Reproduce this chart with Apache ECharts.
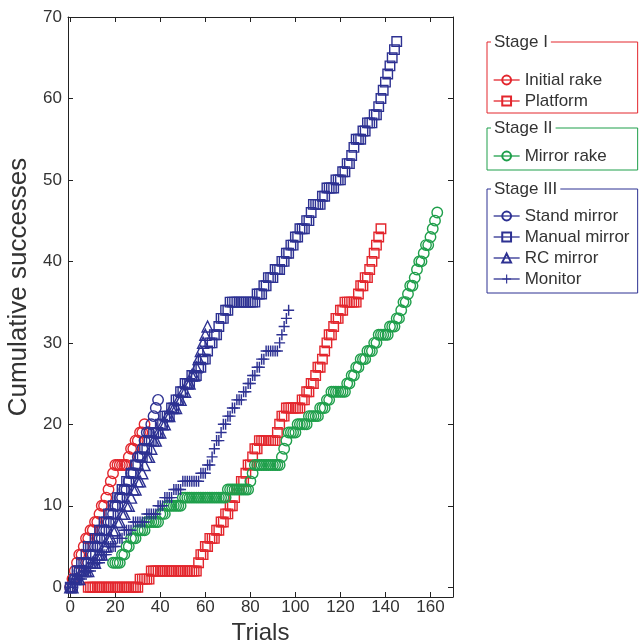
<!DOCTYPE html>
<html><head><meta charset="utf-8">
<script src="https://cdn.jsdelivr.net/npm/echarts@6/dist/echarts.min.js"></script>
<style>html,body{margin:0;padding:0;background:#fff}#c{width:639px;height:642px}</style>
</head><body><div id="c"></div>
<script>
// ---- data (trial index start + cumulative successes per trial) ----
const xTicks = [0, 20, 40, 60, 80, 100, 120, 140, 160];
const yTicks = [0, 10, 20, 30, 40, 50, 60, 70];

const initialRakeStart = 0;
const initialRake = [0,1,2,3,4,4,5,6,6,7,7,8,8,9,10,10,11,12,13,14,15,15,15,15,15,15,16,17,17,18,18,19,19,20];

const platformStart = 8;
const platform = [
 0,0,0,0,0,0,0,0,0,0,0,0,0,0,0,0,0,0,0,0,0,0,0,
 1,1,1,1,1,
 2,2,2,2,2,2,2,2,2,2,2,2,2,2,2,2,2,2,2,2,2,
 3,4,4,5,5,6,6,6,7,7,8,8,9,9,10,10,11,12,12,13,13,14,15,15,16,17,17,
 18,18,18,18,18,18,18,18,
 19,20,21,21,22,
 22,22,22,22,22,22,
 23,23,24,24,25,25,26,27,27,28,29,30,31,31,32,33,33,34,34,35,
 35,35,35,35,35,
 36,37,37,38,38,39,40,41,42,43,44];

const mirrorRakeStart = 19;
const mirrorRake = [
 3,3,3,3,
 4,4,5,5,6,6,6,
 7,7,7,7,
 8,8,8,8,8,8,
 9,9,9,
 10,10,10,10,10,10,10,
 11,11,11,11,11,11,11,11,11,11,11,11,11,11,11,11,11,11,11,11,
 12,12,12,12,12,12,12,12,12,12,
 13,14,
 15,15,15,15,15,15,15,15,15,15,15,15,
 16,17,18,19,
 19,19,19,
 20,20,20,20,20,
 21,21,21,21,21,
 22,22,22,
 23,23,
 24,24,24,24,24,24,24,
 25,25,26,26,27,27,28,28,28,
 29,29,29,
 30,30,
 31,31,31,31,31,
 32,32,32,
 33,33,
 34,35,35,36,37,37,38,39,40,40,41,42,42,43,44,45,46];

const standMirrorStart = 0;
const standMirror = [0,0,1,1,2,2,2,3,3,4,4,5,5,6,6,7,7,8,8,9,10,10,11,11,12,12,13,14,14,15,16,16,17,18,19,19,20,21,22,23];

const manualMirrorStart = 0;
const manualMirror = [
 0,0,1,2,2,3,3,4,5,5,
 5,6,6,7,7,8,8,9,9,10,
 10,11,11,12,12,13,13,14,14,15,
 15,16,16,17,17,18,18,19,19,19,
 20,20,21,21,21,22,22,23,23,24,
 24,25,25,25,26,26,26,27,27,28,
 28,29,30,30,31,31,32,33,33,34,
 34,35,35,35,35,35,35,35,35,35,
 35,35,35,36,36,36,37,37,38,38,
 38,39,39,39,40,40,41,41,42,42,
 43,43,44,44,44,45,45,46,47,47,
 47,47,48,48,49,49,49,49,50,50,
 50,51,51,52,52,53,54,55,55,55,
 56,56,57,57,57,58,58,59,60,61,
 62,63,64,65,66,67];

const rcMirrorStart = 0;
const rcMirror = [
 0,0,1,1,1,2,2,2,2,3,
 3,3,4,4,4,5,5,6,6,7,
 7,8,8,9,9,10,10,11,12,12,
 13,13,14,15,16,16,17,18,18,19,
 19,20,20,21,21,22,22,22,23,23,
 24,24,25,25,26,26,27,28,29,30,
 31,32];

const monitorStart = 0;
const monitor = [
 0,0,1,1,1,1,2,2,2,2,
 3,3,3,3,4,4,4,5,5,5,
 5,6,6,6,7,7,7,7,8,8,
 8,8,8,8,9,9,9,9,9,10,
 10,10,11,11,11,11,12,12,12,12,
 13,13,13,13,13,13,13,13,14,14,
 14,15,15,16,17,18,18,19,20,20,
 21,21,22,22,23,23,23,24,24,25,
 25,26,26,27,27,28,28,29,29,29,
 29,29,29,30,31,32,33,34];

// ---- styling ----
const RED = '#e3262d', GREEN = '#1f9f4b', BLUE = '#2d3192';
const FONT = 'Liberation Sans, Arial, sans-serif';
const PLUS = 'path://M4.35,0H5.65V4.35H10V5.65H5.65V10H4.35V5.65H0V4.35H4.35Z';

function mk(name, start, vals, symbol, size, color, filled) {
  return {
    type: 'line', name: name,
    data: vals.map((v, i) => [start + i, v]),
    symbol: symbol, symbolSize: size, showSymbol: true,
    lineStyle: { width: 1.3, opacity: 0, color: color },
    itemStyle: filled ? { color: color, borderWidth: 0 }
                      : { color: 'rgba(0,0,0,0)', borderColor: color, borderWidth: 1.4 },
    emphasis: { disabled: true }, silent: true, animation: false
  };
}

const axisLineStyle = { color: '#222', width: 1 };
const labelStyle = { fontFamily: FONT, fontSize: 17, color: '#333' };

function legendBox(items, top, color, padTop, padBottom) {
  return {
    data: items, orient: 'vertical', left: 487, top: top,
    borderColor: color, borderWidth: 1, padding: [padTop, 6, padBottom, 6],
    itemGap: 3, itemWidth: 26, itemHeight: 11, selectedMode: false,
    textStyle: { fontFamily: FONT, fontSize: 17, color: '#333', width: 107, lineHeight: 18 },
    lineStyle: { opacity: 1, width: 1.3 }
  };
}
function stageTitle(text, left, top) {
  return { text: text, left: left, top: top, padding: [0, 3], backgroundColor: '#fff',
    textStyle: { fontFamily: FONT, fontSize: 17, fontWeight: 'normal', color: '#333', lineHeight: 20 } };
}

const chart = echarts.init(document.getElementById('c'), null, { renderer: 'canvas' });
chart.setOption({
  backgroundColor: '#fff',
  animation: false,
  grid: { left: 68, right: 186, top: 17, bottom: 45, containLabel: false, outerBoundsMode: 'none' },
  title: [
    stageTitle('Stage I', 491, 32),
    stageTitle('Stage II', 491, 118),
    stageTitle('Stage III', 491, 179)
  ],
  legend: [
    legendBox(['Initial rake', 'Platform'], 42, RED, 29, 3),
    legendBox(['Mirror rake'], 128, GREEN, 19, 5),
    legendBox(['Stand mirror', 'Manual mirror', 'RC mirror', 'Monitor'], 189, BLUE, 18, 5)
  ],
  xAxis: [
    { type: 'value', min: -1, max: 170, position: 'bottom',
      axisLine: { onZero: false, lineStyle: axisLineStyle },
      axisTick: { inside: true, length: 5, customValues: xTicks, lineStyle: axisLineStyle },
      axisLabel: Object.assign({ customValues: xTicks, margin: 2 }, labelStyle),
      splitLine: { show: false },
      name: 'Trials', nameLocation: 'middle', nameGap: 21,
      nameTextStyle: { fontFamily: FONT, fontSize: 24, color: '#333' } },
    { type: 'value', min: -1, max: 170, position: 'top',
      axisLine: { onZero: false, lineStyle: axisLineStyle },
      axisTick: { inside: true, length: 5, customValues: xTicks, lineStyle: axisLineStyle },
      axisLabel: { show: false }, splitLine: { show: false } }
  ],
  yAxis: [
    { type: 'value', min: -1.2, max: 70, position: 'left',
      axisLine: { onZero: false, lineStyle: axisLineStyle },
      axisTick: { inside: true, length: 5, customValues: yTicks, lineStyle: axisLineStyle },
      axisLabel: Object.assign({ customValues: yTicks, margin: 6 }, labelStyle),
      splitLine: { show: false },
      name: 'Cumulative successes', nameLocation: 'middle', nameGap: 35, nameRotate: 90,
      nameTextStyle: { fontFamily: FONT, fontSize: 26, color: '#333', padding: [0, 0, 0, 40] } },
    { type: 'value', min: -1.2, max: 70, position: 'right',
      axisLine: { onZero: false, lineStyle: axisLineStyle },
      axisTick: { inside: true, length: 5, customValues: yTicks, lineStyle: axisLineStyle },
      axisLabel: { show: false }, splitLine: { show: false } }
  ],
  series: [
    mk('Initial rake', initialRakeStart, initialRake, 'circle', 10.5, RED),
    mk('Platform', platformStart, platform, 'rect', 9.5, RED),
    mk('Mirror rake', mirrorRakeStart, mirrorRake, 'circle', 10.5, GREEN),
    mk('Stand mirror', standMirrorStart, standMirror, 'circle', 10.5, BLUE),
    mk('Manual mirror', manualMirrorStart, manualMirror, 'rect', 9.5, BLUE),
    mk('RC mirror', rcMirrorStart, rcMirror, 'triangle', 11, BLUE),
    mk('Monitor', monitorStart, monitor, PLUS, 11, BLUE, true)
  ]
});
</script>
</body></html>
